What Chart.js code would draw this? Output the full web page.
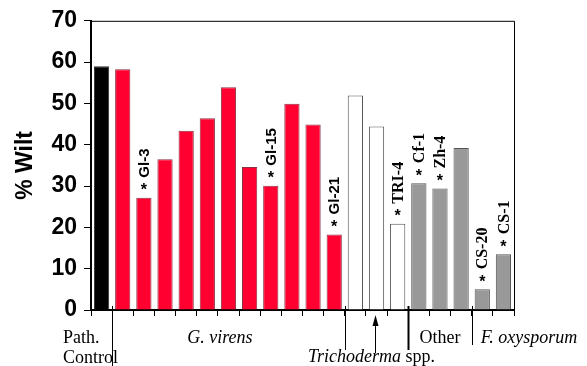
<!DOCTYPE html>
<html>
<head>
<meta charset="utf-8">
<script src="https://cdn.jsdelivr.net/npm/chart.js@4/dist/chart.umd.min.js"></script>
<style>
  html, body { margin: 0; padding: 0; background: #fff; }
  #wrap { width: 587px; height: 366px; }
</style>
</head>
<body>
<div id="wrap"><canvas id="chart_wilt"></canvas></div>
<script>
// one bar per treatment, left to right
let wilt_values = [59.0, 58.3, 27.2, 36.5, 43.4, 46.4, 53.9, 34.6, 30.1, 49.9, 44.9, 18.3,
                   51.9, 44.4, 20.9, 30.7, 29.4, 39.2, 5.0, 13.5];
let bar_labels = ["", "", "Gl-3", "", "", "", "", "", "Gl-15", "", "", "Gl-21",
                  "", "", "TRI-4", "Cf-1", "Zh-4", "", "CS-20", "CS-1"];
let bar_groups = ["path", "gv", "gv", "gv", "gv", "gv", "gv", "gv", "gv", "gv", "gv", "gv",
                  "tri", "tri", "tri", "oth", "oth", "oth", "fox", "fox"];
let y_ticks = [0, 10, 20, 30, 40, 50, 60, 70];

var groupColors = { path: "#000000", gv: "#ff0030", tri: "#ffffff", oth: "#999999", fox: "#999999" };
var serifLabels = ["TRI-4", "Cf-1", "Zh-4", "CS-20", "CS-1"];

let extras = {
    id: "extras",
    afterDraw(chart) {
        let ctx = chart.ctx;
        let area = chart.chartArea;
        let x = chart.scales.x;
        let y = chart.scales.y;
        let half = (x.getPixelForValue(1) - x.getPixelForValue(0)) / 2;
        let edge = i => x.getPixelForValue(i) - half;

        ctx.save();
        // frame top and right
        ctx.strokeStyle = "#000";
        ctx.lineWidth = 1;
        ctx.beginPath();
        ctx.moveTo(area.left, area.top + 0.5);
        ctx.lineTo(area.right + 0.5, area.top + 0.5);
        ctx.lineTo(area.right + 0.5, area.bottom);
        ctx.stroke();

        // labels above marked bars
        bar_labels.forEach((lab, i) => {
            if (!lab) return;
            let cx = x.getPixelForValue(i);
            let top = y.getPixelForValue(wilt_values[i]);
            ctx.fillStyle = "#000";
            ctx.font = "bold 16px 'Liberation Sans', Arial";
            ctx.textAlign = "center";
            ctx.textBaseline = "middle";
            ctx.fillText("*", cx, top - 7);
            ctx.save();
            ctx.translate(cx, top - 20);
            ctx.rotate(-Math.PI / 2);
            ctx.textAlign = "left";
            ctx.font = serifLabels.includes(lab)
                ? "bold 16px 'Liberation Serif', 'Times New Roman'"
                : "bold 15px 'Liberation Sans', Arial";
            ctx.fillText(lab, 0, 1);
            ctx.restore();
        });

        // group separators
        let bottom = area.bottom;
        let vline = (px, y2, w) => {
            ctx.lineWidth = w;
            ctx.beginPath();
            ctx.moveTo(Math.round(px) + 0.5, bottom - 4);
            ctx.lineTo(Math.round(px) + 0.5, y2);
            ctx.stroke();
        };
        vline(edge(1), 366, 1);
        vline(edge(12), 350, 1);
        vline(edge(15), 350, 2);
        vline(edge(18), 345, 1);

        // arrow to Trichoderma bars
        let ax = Math.round(x.getPixelForValue(13)) - 1.5;
        ctx.lineWidth = 1;
        ctx.beginPath();
        ctx.moveTo(ax, 353);
        ctx.lineTo(ax, 322);
        ctx.stroke();
        ctx.beginPath();
        ctx.moveTo(ax, 315);
        ctx.lineTo(ax - 3, 326);
        ctx.lineTo(ax + 3, 326);
        ctx.closePath();
        ctx.fill();

        // group names
        ctx.fillStyle = "#000";
        ctx.textBaseline = "middle";
        let serif = "'Liberation Serif', 'Times New Roman'";
        ctx.font = "18px " + serif;
        ctx.textAlign = "left";
        ctx.fillText("Path.", area.left - 28, 338);
        ctx.fillText("Control", area.left - 28, 358);
        ctx.font = "italic 18px " + serif;
        ctx.textAlign = "center";
        ctx.fillText("G. virens", edge(6) + 2, 338);
        ctx.font = "18px " + serif;
        ctx.fillText("Other", x.getPixelForValue(16), 338);
        ctx.font = "italic 18px " + serif;
        ctx.textAlign = "left";
        ctx.fillText("F. oxysporum", edge(18) + 9, 338);
        let t1 = "Trichoderma";
        let w1 = ctx.measureText(t1).width;
        ctx.font = "18px " + serif;
        let w2 = ctx.measureText(" spp.").width;
        let sx = x.getPixelForValue(13) - 5 - (w1 + w2) / 2;
        ctx.fillText(" spp.", sx + w1, 357);
        ctx.font = "italic 18px " + serif;
        ctx.fillText(t1, sx, 357);
        ctx.restore();
    }
};

let wilt_elm = document.getElementById("chart_wilt").getContext("2d");
new Chart(wilt_elm, {
    type: "bar",
    data: {
        labels: wilt_values.map((v, i) => String(i + 1)),
        datasets: [{
            data: wilt_values,
            backgroundColor: bar_groups.map(g => groupColors[g]),
            borderColor: bar_groups.map(g => g == "path" ? "#333" : (g == "gv" ? "#8a3040" : "#555")),
            borderWidth: 1,
            barPercentage: 0.72,
            categoryPercentage: 1.0,
        }]
    },
    options: {
        responsive: true,
        maintainAspectRatio: false,
        animation: false,
        layout: { padding: { left: 0, right: 73, top: 20, bottom: 0 } },
        plugins: { legend: { display: false }, tooltip: { enabled: false } },
        scales: {
            x: {
                afterFit: s => { s.height = 56; },
                ticks: { display: false },
                grid: { drawOnChartArea: false, offset: true, tickLength: 6, color: "#000" },
                border: { color: "#000", width: 2 },
            },
            y: {
                min: 0,
                max: 70,
                afterFit: s => { s.width = 91; },
                afterBuildTicks: s => { s.ticks = y_ticks.map(v => ({ value: v })); },
                ticks: {
                    color: "#000",
                    padding: 7,
                    font: { family: "'Liberation Sans', Arial", size: 23, weight: "bold" },
                },
                grid: { drawOnChartArea: false, tickLength: 7, color: "#000" },
                border: { color: "#000", width: 2 },
                title: {
                    display: true,
                    text: "% Wilt",
                    color: "#000",
                    padding: { top: 12, bottom: 0 },
                    font: { family: "'Liberation Sans', Arial", size: 23, weight: "bold" },
                },
            },
        },
    },
    plugins: [extras],
});
</script>
</body>
</html>
